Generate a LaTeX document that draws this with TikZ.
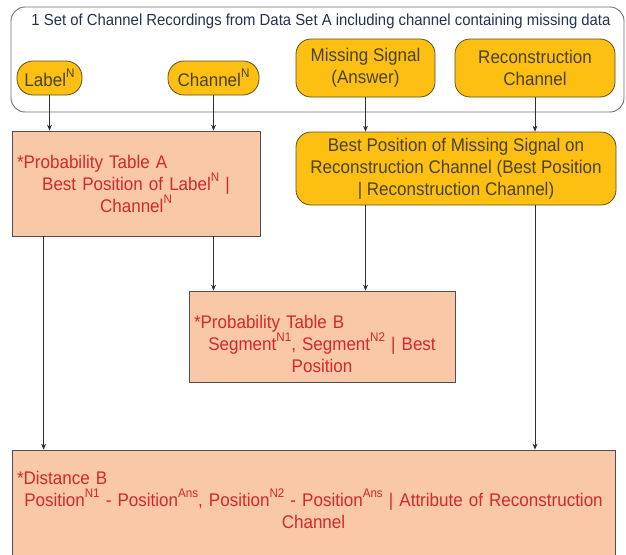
\documentclass[tikz,border=0pt]{standalone}
\usepackage{fontspec}
\setmainfont{Liberation Sans}[FakeStretch=0.93]
\usetikzlibrary{calc,arrows.meta}
\definecolor{ybox}{HTML}{FCBF12}
\definecolor{yborder}{HTML}{5E5020}
\definecolor{pbox}{HTML}{F9C8A6}
\definecolor{pborder}{HTML}{505050}
\definecolor{redtext}{HTML}{D3282C}
\definecolor{ytext}{HTML}{4A4226}
\definecolor{titletext}{HTML}{24314F}
\definecolor{linec}{HTML}{303030}
\definecolor{outerc}{HTML}{707070}
\newcommand{\bodyfont}{\fontsize{18.3}{22}\selectfont}
\newcommand{\flushleftline}[1]{\makebox[\linewidth][l]{#1}}
\newcommand{\sups}[1]{\raisebox{0.48em}{\fontsize{12.5}{12.5}\selectfont #1}}
\begin{document}
\begin{tikzpicture}[x=1pt,y=-1pt,
  outerbox/.style={draw=outerc, line width=0.9pt, fill=white, rounded corners=14pt, inner sep=0pt},
  ynode/.style={draw=yborder, line width=0.8pt, fill=ybox, rounded corners=15pt, inner sep=0pt,
    text=ytext, font=\bodyfont, align=center},
  pinkbox/.style={draw=pborder, line width=0.8pt, fill=pbox, inner sep=0pt},
  redtxt/.style={text=redtext, font=\bodyfont, align=center, inner sep=0pt},
  arr/.style={draw=linec, line width=0.8pt, -{Stealth[length=6pt,width=5pt]}},
]
\useasboundingbox (0,0) rectangle (626,554);

% outer container
\node[outerbox, minimum width=613pt, minimum height=105pt] (outer) at (317.5,59.5) {};
\node[text=titletext, font=\fontsize{16}{19}\selectfont, inner sep=0pt] (title) at (321,21) {1 Set of Channel Recordings from Data Set A including channel containing missing data};

% top yellow nodes
\node[ynode, minimum width=65pt, minimum height=34pt, rounded corners=16pt] (label) at (49.5,78) {Label\sups{N}};
\node[ynode, minimum width=91pt, minimum height=34pt, rounded corners=16pt] (chan) at (213.5,78) {Channel\sups{N}};
\node[ynode, minimum width=139pt, minimum height=58pt] (miss) at (365.5,68) {Missing Signal\\(Answer)};
\node[ynode, minimum width=160pt, minimum height=58pt] (rec) at (535,68) {Reconstruction\\Channel};

% Probability table A
\node[pinkbox, minimum width=248pt, minimum height=105pt] (probA) at (136,183.5) {};
\node[redtxt, text width=238pt, anchor=base] (probAtext) at (136,168) {\flushleftline{*Probability Table A}\\Best Position of Label\sups{N} |\\Channel\sups{N}};

% Best position
\node[ynode, minimum width=320pt, minimum height=73pt] (best) at (456,168.5) {Best Position of Missing Signal on\\Reconstruction Channel (Best Position\\| Reconstruction Channel)};

% Probability table B
\node[pinkbox, minimum width=266pt, minimum height=91pt] (probB) at (322,336.5) {};
\node[redtxt, text width=256pt, anchor=base] (probBtext) at (322,328) {\flushleftline{*Probability Table B}\\Segment\sups{N1}, Segment\sups{N2} | Best\\Position};

% Distance B
\node[pinkbox, minimum width=603pt, minimum height=120pt] (distB) at (313.5,510) {};
\node[redtxt, text width=593pt, anchor=base] (distBtext) at (313.5,484) {\flushleftline{*Distance B}\\Position\sups{N1} - Position\sups{Ans}, Position\sups{N2} - Position\sups{Ans} | Attribute of Reconstruction\\Channel};

% connectors
\draw[arr] (label.south) -- (label.south |- probA.north);
\draw[arr] (chan.south) -- (chan.south |- probA.north);
\draw[arr] (miss.south) -- (miss.south |- best.north);
\draw[arr] (rec.south) -- (rec.south |- best.north);
\coordinate (aLeft) at ($(probA.south west)+(32,0)$);
\draw[arr] (aLeft) -- (aLeft |- distB.north);
\draw[arr] (chan.south |- probA.south) -- (chan.south |- probB.north);
\draw[arr] (miss.south |- best.south) -- (miss.south |- probB.north);
\draw[arr] (rec.south |- best.south) -- (rec.south |- distB.north);
\end{tikzpicture}
\end{document}
